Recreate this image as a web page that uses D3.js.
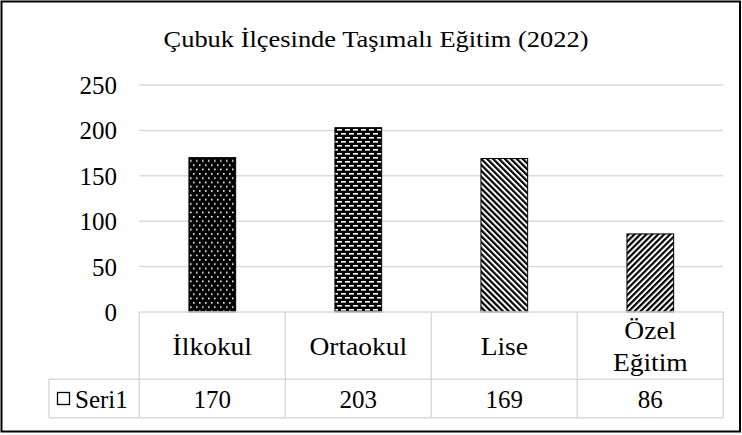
<!DOCTYPE html>
<html>
<head>
<meta charset="utf-8">
<script src="https://cdn.jsdelivr.net/npm/d3@7"></script>
<style>
  body { margin: 0; background: #fff; }
</style>
</head>
<body>
<svg id="chart" width="742" height="435" font-family="Liberation Serif"></svg>
<script>
var title = "Çubuk İlçesinde Taşımalı Eğitim (2022)";
var categories = ["İlkokul", "Ortaokul", "Lise", "Özel Eğitim"];
var categoryLines = [["İlkokul"], ["Ortaokul"], ["Lise"], ["Özel", "Eğitim"]];
var values = [170, 203, 169, 86];
var yTicks = [0, 50, 100, 150, 200, 250];
var seriesName = "Seri1";
var patterns = ["dots", "dashes", "down", "up"];

var svg = d3.select("#chart");
var plotLeft = 139.3, plotRight = 723.3, plotTop = 85, zeroY = 312;
var rowY = 379.3, bottomY = 417.7, legendX = 49;
var gridColor = "#d9d9d9";

var x = d3.scaleBand().domain(categories).range([plotLeft, plotRight]);
var y = d3.scaleLinear().domain([0, 250]).range([zeroY, plotTop]);

// fill patterns
var defs = svg.append("defs");
var p = defs.append("pattern").attr("id", "dots").attr("patternUnits", "userSpaceOnUse")
  .attr("width", 6).attr("height", 8.6);
p.append("rect").attr("width", 6).attr("height", 8.6).attr("fill", "#000");
p.append("rect").attr("x", 1).attr("y", 1).attr("width", 1.6).attr("height", 1.6).attr("fill", "#fff");
p.append("rect").attr("x", 4).attr("y", 5.3).attr("width", 1.6).attr("height", 1.6).attr("fill", "#fff");

p = defs.append("pattern").attr("id", "dashes").attr("patternUnits", "userSpaceOnUse")
  .attr("width", 8).attr("height", 8);
p.append("rect").attr("width", 8).attr("height", 8).attr("fill", "#000");
p.append("rect").attr("x", 1).attr("y", 1).attr("width", 5).attr("height", 1.6).attr("fill", "#fff");
p.append("rect").attr("x", 5).attr("y", 5).attr("width", 5).attr("height", 1.6).attr("fill", "#fff");
p.append("rect").attr("x", -3).attr("y", 5).attr("width", 5).attr("height", 1.6).attr("fill", "#fff");

[["down", -45], ["up", 45]].forEach(function(d) {
  var s = defs.append("pattern").attr("id", d[0]).attr("patternUnits", "userSpaceOnUse")
    .attr("width", 4.2).attr("height", 10).attr("patternTransform", "rotate(" + d[1] + ")");
  s.append("rect").attr("width", 4.2).attr("height", 10).attr("fill", "#fff");
  s.append("rect").attr("width", 2.2).attr("height", 10).attr("fill", "#000");
});

// outer frame
svg.append("rect").attr("x", 1.5).attr("y", 1.5).attr("width", 738.5).attr("height", 430)
  .attr("fill", "none").attr("stroke", "#000").attr("stroke-width", 2);

// title, stretched a little sideways like the reference
svg.append("text").attr("text-anchor", "middle")
  .attr("transform", "translate(376,47) scale(1.15,1)")
  .attr("font-size", 23).text(title);

// gridlines and y labels
svg.selectAll(".grid").data(yTicks.filter(function(t) { return t > 0; })).enter().append("line")
  .attr("x1", plotLeft).attr("x2", plotRight)
  .attr("y1", function(d) { return y(d); }).attr("y2", function(d) { return y(d); })
  .attr("stroke", gridColor).attr("stroke-width", 1.5);

svg.selectAll(".ylab").data(yTicks).enter().append("text")
  .attr("x", 117).attr("y", function(d) { return y(d) + 9; })
  .attr("text-anchor", "end").attr("font-size", 25)
  .text(function(d) { return d; });

// bars
var barW = x.bandwidth() * 0.32;
svg.selectAll(".bar").data(values).enter().append("rect")
  .attr("x", function(d, i) { return x(categories[i]) + (x.bandwidth() - barW) / 2; })
  .attr("y", function(d) { return y(d); })
  .attr("width", barW)
  .attr("height", function(d) { return zeroY - y(d); })
  .attr("fill", function(d, i) { return "url(#" + patterns[i] + ")"; })
  .attr("stroke", "#000").attr("stroke-width", 1);

// data table
var g = svg.append("g").attr("stroke", gridColor).attr("stroke-width", 1.5);
g.append("line").attr("x1", plotLeft).attr("x2", plotRight).attr("y1", zeroY).attr("y2", zeroY);
g.append("line").attr("x1", legendX).attr("x2", plotRight).attr("y1", rowY).attr("y2", rowY);
g.append("line").attr("x1", legendX).attr("x2", plotRight).attr("y1", bottomY).attr("y2", bottomY);
g.append("line").attr("x1", legendX).attr("x2", legendX).attr("y1", rowY).attr("y2", bottomY);
g.selectAll(".vline").data(categories).enter().append("line")
  .attr("x1", function(d) { return x(d); }).attr("x2", function(d) { return x(d); })
  .attr("y1", zeroY).attr("y2", bottomY);
g.append("line").attr("x1", plotRight).attr("x2", plotRight).attr("y1", zeroY).attr("y2", bottomY);

categoryLines.forEach(function(lines, i) {
  var cx = x(categories[i]) + x.bandwidth() / 2;
  var mid = (zeroY + rowY) / 2;
  lines.forEach(function(t, j) {
    var ty = mid + 9 + (j - (lines.length - 1) / 2) * 32;
    svg.append("text")
      .attr("transform", "translate(" + cx + "," + ty + ") scale(1.1,1)")
      .attr("text-anchor", "middle").attr("font-size", 25).text(t);
  });
});

svg.selectAll(".val").data(values).enter().append("text")
  .attr("x", function(d, i) { return x(categories[i]) + x.bandwidth() / 2; })
  .attr("y", (rowY + bottomY) / 2 + 9)
  .attr("text-anchor", "middle").attr("font-size", 25)
  .text(function(d) { return d; });

svg.append("rect").attr("x", 57.5).attr("y", 392.5).attr("width", 12).attr("height", 12)
  .attr("fill", "#fff").attr("stroke", "#000").attr("stroke-width", 1.3);
svg.append("text").attr("x", 75).attr("y", (rowY + bottomY) / 2 + 9)
  .attr("font-size", 25).text(seriesName);
</script>
</body>
</html>
